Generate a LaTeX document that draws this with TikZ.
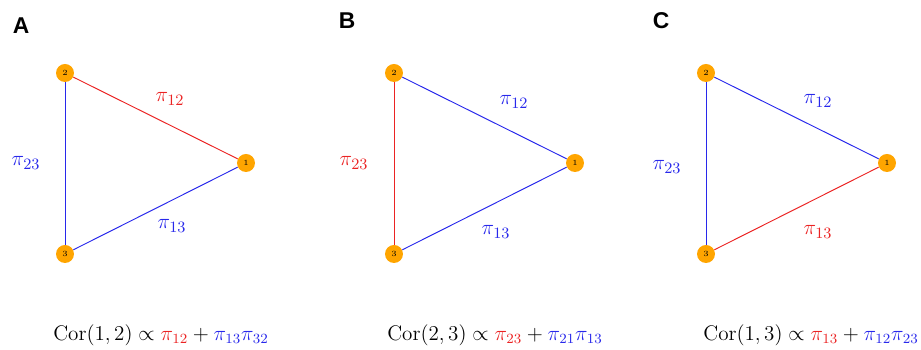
\documentclass[tikz,border=0pt]{standalone}
\usepackage{amsmath}
\usepackage{fontspec}
\newfontfamily\panelfont{Liberation Sans}
\usetikzlibrary{positioning}
\definecolor{cRed}{RGB}{235,35,35}
\definecolor{cBlue}{RGB}{40,40,235}
\definecolor{cNode}{RGB}{255,165,0}

\begin{document}
\begin{tikzpicture}[
    x=0.02cm, y=-0.02cm,
    vertex/.style={circle,fill=cNode,inner sep=0pt,minimum size=0.36cm,font=\fontsize{4.5}{4.5}\selectfont},
    edge/.style={line width=0.55pt},
    wlabel/.style={font=\fontsize{13}{15}\selectfont},
    panel/.style={font=\panelfont\bfseries\fontsize{13}{13}\selectfont},
    formula/.style={font=\fontsize{12}{14}\selectfont}
  ]
  \useasboundingbox (0,0) rectangle (921,350);
  % Triangles
  \foreach \p/\ox/\cx/\cy/\cz in {A/0/cRed/cBlue/cBlue, B/329/cBlue/cRed/cBlue, C/641/cBlue/cBlue/cRed} {
    \node[vertex] (\p1) at (246+\ox,163) {1};
    \node[vertex] (\p2) at (65+\ox,73) {2};
    \node[vertex] (\p3) at (65+\ox,254) {3};
    \draw[edge,\cx] (\p2) -- (\p1);
    \draw[edge,\cy] (\p2) -- (\p3);
    \draw[edge,\cz] (\p3) -- (\p1);
  }
  % Panel A
  \node[panel] (pA) at (21,26) {A};
  \node[wlabel,cRed]  (lA12) at (170,99)  {$\pi_{12}$};
  \node[wlabel,cBlue] (lA23) at (26,163)  {$\pi_{23}$};
  \node[wlabel,cBlue] (lA13) at (172,226) {$\pi_{13}$};
  \node[formula] (fA) at (161,335) {$\mathrm{Cor}(1,2)\propto{\color{cRed}\pi_{12}}+{\color{cBlue}\pi_{13}\pi_{32}}$};
  % Panel B
  \node[panel] (pB) at (347,21) {B};
  \node[wlabel,cBlue] (lB12) at (514,102) {$\pi_{12}$};
  \node[wlabel,cRed]  (lB23) at (354,163) {$\pi_{23}$};
  \node[wlabel,cBlue] (lB13) at (496,232) {$\pi_{13}$};
  \node[formula] (fB) at (495,335) {$\mathrm{Cor}(2,3)\propto{\color{cRed}\pi_{23}}+{\color{cBlue}\pi_{21}\pi_{13}}$};
  % Panel C
  \node[panel] (pC) at (661,21) {C};
  \node[wlabel,cBlue] (lC12) at (818,101) {$\pi_{12}$};
  \node[wlabel,cBlue] (lC23) at (667,167) {$\pi_{23}$};
  \node[wlabel,cRed]  (lC13) at (818,232) {$\pi_{13}$};
  \node[formula,anchor=west,inner sep=0pt] (fC) at (703,335) {$\mathrm{Cor}(1,3)\propto{\color{cRed}\pi_{13}}+{\color{cBlue}\pi_{12}\pi_{23}}$};
\end{tikzpicture}
\end{document}
